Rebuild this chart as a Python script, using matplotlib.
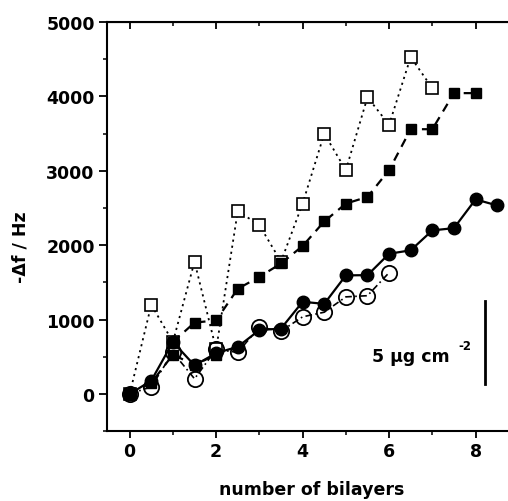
import numpy as np
import matplotlib
matplotlib.use("Agg")
import matplotlib.pyplot as plt

plt.rcParams["font.family"] = ["DejaVu Sans"]
plt.rcParams["font.weight"] = "bold"
plt.rcParams["mathtext.fontset"] = "dejavusans"

# --- data ---
x_open_sq = [0, 0.5, 1, 1.5, 2, 2.5, 3, 3.5, 4, 4.5, 5, 5.5, 6, 6.5, 7]
y_open_sq = [0, 1200, 700, 1780, 600, 2460, 2270, 1780, 2560, 3500, 3010, 3990, 3620, 4530, 4110]

x_fill_sq = [1, 1.5, 2, 2.5, 3, 3.5, 4, 4.5, 5, 5.5, 6, 6.5, 7, 7.5, 8]
y_fill_sq = [700, 960, 990, 1415, 1575, 1755, 1990, 2320, 2560, 2650, 3010, 3560, 3560, 4045, 4045]

x_fill_sq_low = [0, 0.5, 1, 1.5, 2]
y_fill_sq_low = [0, 150, 530, 390, 530]

x_fill_ci = [0, 0.5, 1, 1.5, 2, 2.5, 3, 3.5, 4, 4.5, 5, 5.5, 6, 6.5, 7, 7.5, 8, 8.5]
y_fill_ci = [0, 180, 700, 385, 550, 635, 860, 880, 1240, 1212, 1595, 1598, 1886, 1932, 2200, 2230, 2616, 2535]

x_open_ci = [0, 0.5, 1, 1.5, 2, 2.5, 3, 3.5, 4, 4.5, 5, 5.5, 6]
y_open_ci = [0, 98, 560, 205, 600, 560, 900, 845, 1038, 1100, 1306, 1322, 1632]

fig = plt.figure(figsize=(5.08, 5.02), dpi=100)
ax = fig.add_axes([0.211, 0.139, 0.789, 0.815])

ax.plot(x_open_sq, y_open_sq, color="black", lw=1.3, ls=(0, (1.2, 2.2)),
        marker="s", ms=9, mfc="white", mec="black", mew=1.2, zorder=2)
ax.plot(x_fill_sq, y_fill_sq, color="black", lw=1.6, ls=(0, (4, 3)),
        marker="s", ms=7.5, mfc="black", mec="black", zorder=3)
ax.plot(x_fill_sq_low, y_fill_sq_low, color="black", lw=1.6, ls=(0, (4, 3)),
        marker="s", ms=7.5, mfc="black", mec="black", zorder=3)
ax.plot(x_open_ci, y_open_ci, color="black", lw=1.2, ls=(0, (4, 2, 1, 2)),
        marker="o", ms=11, mfc="none", mec="black", mew=1.3, zorder=4)
ax.plot(x_fill_ci, y_fill_ci, color="black", lw=1.6, ls="-",
        marker="o", ms=9, mfc="black", mec="black", zorder=5)

# scale bar
ax.plot([8.22, 8.22], [140, 1255], color="black", lw=2)
ax.text(5.6, 510, "5 \u03bcg cm", fontsize=12.5, fontweight="bold", va="center", ha="left")
ax.text(7.6, 650, "-2", fontsize=8.5, fontweight="bold", va="center", ha="left")

ax.set_xlim(-0.52, 8.75)
ax.set_ylim(-500, 5000)
ax.set_xticks([0, 2, 4, 6, 8])
ax.set_xticks([1, 3, 5, 7], minor=True)
ax.set_yticks([0, 1000, 2000, 3000, 4000, 5000])
ax.set_yticks(np.arange(-500, 5000, 1000), minor=True)

ax.spines["right"].set_visible(False)
for s in ["left", "bottom", "top"]:
    ax.spines[s].set_linewidth(1.5)

ax.tick_params(axis="both", which="major", direction="out", length=5, width=1.3,
               labelsize=12.5, pad=3)
ax.tick_params(axis="both", which="minor", direction="out", length=3, width=1.1)
ax.tick_params(axis="y", which="major", length=6)
for lab in ax.get_xticklabels() + ax.get_yticklabels():
    lab.set_fontweight("bold")

top = ax.secondary_xaxis("top")
top.set_xticks([0, 2, 4, 6, 8])
top.set_xticks([1, 3, 5, 7], minor=True)
top.tick_params(which="major", direction="in", length=5, width=1.3, labeltop=False)
top.tick_params(which="minor", direction="in", length=3, width=1.1)

ax.set_xlabel("number of bilayers", fontsize=12.5, fontweight="bold")
ax.xaxis.set_label_coords(0.509, -0.12)
ax.set_ylabel("-\u0394f / Hz", fontsize=12.5, fontweight="bold")
ax.yaxis.set_label_coords(-0.195, 0.452)

fig.savefig("out.png", dpi=100)
